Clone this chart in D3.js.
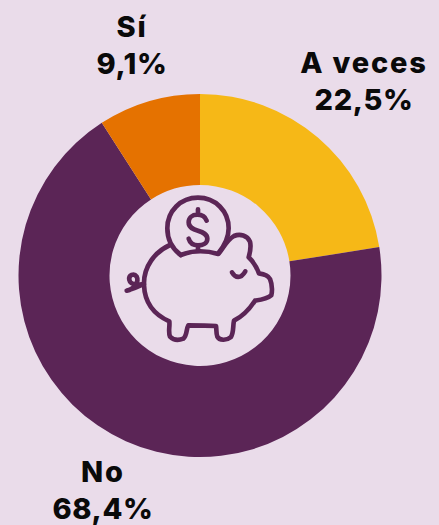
<!DOCTYPE html>
<html><head><meta charset="utf-8">
<script src="https://cdn.jsdelivr.net/npm/d3@7"></script>
<style>html,body{margin:0;padding:0;background:#eadcea;overflow:hidden}svg{display:block}</style>
</head><body><svg id="c" width="439" height="525"></svg>
<script>
const categories = ["A veces", "No", "Sí"];
const values = [22.5, 68.4, 9.1];
const valueLabels = ["22,5%", "68,4%", "9,1%"];
const colors = ["#f6b817", "#5b2556", "#e57200"];
const labelPos = [[364, 73], [103, 482], [132, 37]];

const svg = d3.select("#c");
const cx = 200, cy = 275.5, R = 181.5, r0 = 90.5;
const pie = d3.pie().sort(null).value(d => d)(values);
const arc = d3.arc().innerRadius(r0).outerRadius(R);
const g = svg.append("g").attr("transform", `translate(${cx},${cy})`);
g.selectAll("path").data(pie).join("path").attr("d", arc).attr("fill", (d, i) => colors[i]);

const icon = svg.append("g").attr("transform", "translate(110,180) scale(0.3333)")
  .attr("fill", "none").attr("stroke", "#5b2556").attr("stroke-width", 14)
  .attr("stroke-linecap", "round").attr("stroke-linejoin", "round");
icon.append("path").attr("d", "M212 225 C185 205 172 175 172 145 C172 93 212 53 264 53 C316 53 356 93 356 145 C356 172 343 198 325 220");
icon.append("path").attr("d", "M290 122 C285 108 272 104 262 104 C246 104 236 114 236 127 C236 143 250 148 264 152 C280 157 292 162 292 176 C292 190 278 196 264 196 C252 196 240 190 236 176 M264 88 L264 104 M264 196 L264 212");
icon.append("path").attr("d", "M212 225 C245 212 285 210 325 222 C340 205 350 180 372 168 C390 160 412 166 420 185 C424 200 420 218 416 232 C430 245 440 262 447 280 C462 282 475 287 480 297 C486 312 487 332 484 346 C470 358 450 360 435 362 C420 385 400 408 372 422 C368 440 372 458 362 472 C350 482 328 482 322 470 C318 460 320 448 318 438 C290 436 262 436 235 436 C228 448 232 466 220 476 C205 482 190 480 180 470 C174 455 180 440 178 424 C135 405 104 370 102 315 C100 260 135 215 180 195");
icon.append("path").attr("d", "M102 312 C90 318 70 326 50 332 C72 328 88 305 80 290 C72 278 55 285 58 300 C60 312 75 316 100 312");
icon.append("path").attr("d", "M366 277 C376 294 392 298 406 274");

const font = "Inter, 'Open Sans', sans-serif";
categories.forEach((c, i) => {
  const t = svg.append("text").attr("text-anchor", "middle")
    .attr("font-family", font).attr("font-weight", 800).attr("font-size", 29).attr("fill", "#0a0a0a");
  t.append("tspan").attr("x", labelPos[i][0]).attr("y", labelPos[i][1]).attr("letter-spacing", 1.8).text(c);
  t.append("tspan").attr("x", labelPos[i][0]).attr("y", labelPos[i][1] + 37).attr("letter-spacing", 0.6).text(valueLabels[i]);
});
</script></body></html>
